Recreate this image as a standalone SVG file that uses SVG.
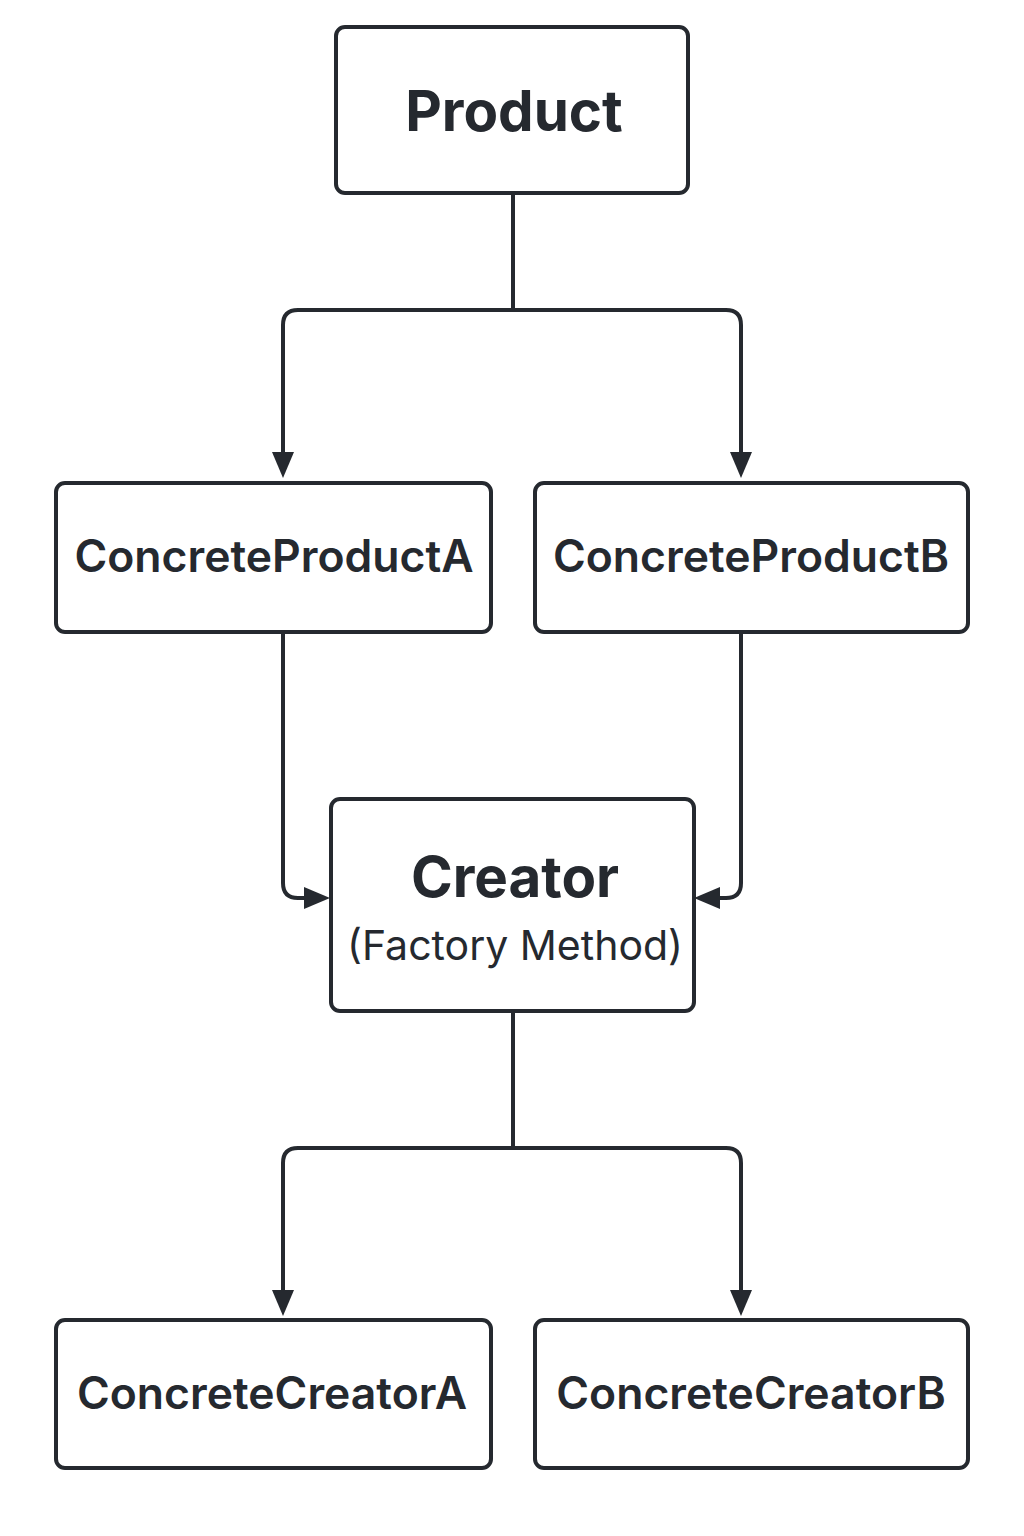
<svg xmlns="http://www.w3.org/2000/svg" width="1024" height="1536" viewBox="0 0 1024 1536">
<style>
.box{fill:#fff;stroke:#25292f;stroke-width:4}
.ln{fill:none;stroke:#25292f;stroke-width:4}
.t{font-family:Inter,"Noto Sans",sans-serif;fill:#25292f;text-anchor:middle}
.big{font-size:56.5px;font-weight:700}
.mid{font-size:44.5px;font-weight:600}
.sub{font-size:41px;font-weight:400}
</style>
<rect width="1024" height="1536" fill="#fff"/>
<g id="connectors">
<path class="ln" d="M513,193 V310"/>
<path class="ln" d="M513,310 H298 Q283,310 283,325 V456"/>
<path class="ln" d="M513,310 H726 Q741,310 741,325 V456"/>
<path d="M272,452 L294,452 L283,478 Z" fill="#25292f"/>
<path d="M730,452 L752,452 L741,478 Z" fill="#25292f"/>
<path class="ln" d="M283,632 V883 Q283,898 298,898 H306"/>
<path d="M304,887 L304,909 L330,898 Z" fill="#25292f"/>
<path class="ln" d="M741,632 V883 Q741,898 726,898 H718"/>
<path d="M720,887 L720,909 L694,898 Z" fill="#25292f"/>
<path class="ln" d="M513,1011 V1148"/>
<path class="ln" d="M513,1148 H298 Q283,1148 283,1163 V1294"/>
<path class="ln" d="M513,1148 H726 Q741,1148 741,1163 V1294"/>
<path d="M272,1290 L294,1290 L283,1316 Z" fill="#25292f"/>
<path d="M730,1290 L752,1290 L741,1316 Z" fill="#25292f"/>
</g>
<g id="product">
<rect class="box" x="336" y="27" width="352" height="166" rx="9"/>
<text class="t big" x="514" y="131">Product</text>
</g>
<g id="concreteProductA">
<rect class="box" x="56" y="483" width="435" height="149" rx="9"/>
<text class="t mid" x="274" y="572">ConcreteProductA</text>
</g>
<g id="concreteProductB">
<rect class="box" x="535" y="483" width="433" height="149" rx="9"/>
<text class="t mid" x="751" y="572">ConcreteProductB</text>
</g>
<g id="creator">
<rect class="box" x="331" y="799" width="363" height="212" rx="9"/>
<text class="t big" x="515" y="897">Creator</text>
<text class="t sub" x="515" y="960">(Factory Method)</text>
</g>
<g id="concreteCreatorA">
<rect class="box" x="56" y="1320" width="435" height="148" rx="9"/>
<text class="t mid" x="272" y="1409">ConcreteCreatorA</text>
</g>
<g id="concreteCreatorB">
<rect class="box" x="535" y="1320" width="433" height="148" rx="9"/>
<text class="t mid" x="751" y="1409">ConcreteCreatorB</text>
</g>
</svg>
